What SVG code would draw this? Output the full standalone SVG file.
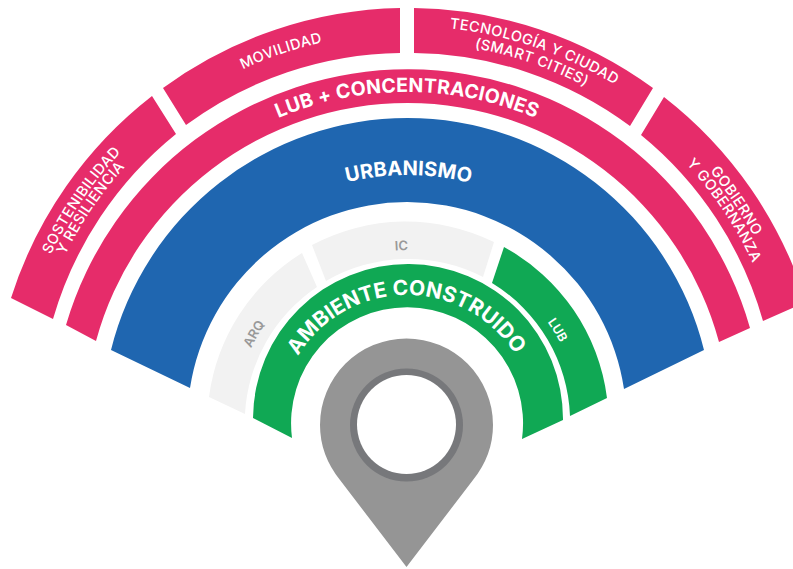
<svg xmlns="http://www.w3.org/2000/svg" width="793" height="569" viewBox="0 0 793 569">
<style>
.pink{fill:#e62c6a}.blue{fill:#1f66b0}.green{fill:#10a854}.light{fill:#f2f2f2}
text{font-family:"Inter","Open Sans","Liberation Sans",sans-serif;fill:#fff;text-anchor:middle}
.s{font-size:14.5px;font-weight:500;letter-spacing:.4px}
.b1{font-size:19.5px;font-weight:700;letter-spacing:.2px}
.b2{font-size:20px;font-weight:700;letter-spacing:.1px}
.b3{font-size:21px;font-weight:700;letter-spacing:.1px}
.g{font-size:13px;font-weight:600;fill:#999}
.l{font-size:12.5px;font-weight:600}
</style>
<defs>
<path id="r397" d="M10 423A397 397 0 0 1 804 423"/>
<path id="r394" d="M13 423A394 394 0 0 1 801 423"/>
<path id="r390" d="M17 423A390 390 0 0 1 797 423"/>
<path id="r381" d="M26 423A381 381 0 0 1 788 423"/>
<path id="r331" d="M76 423A331 331 0 0 1 738 423"/>
<path id="r248" d="M159 423A248 248 0 0 1 655 423"/>
<path id="r173" d="M234 423A173 173 0 0 1 580 423"/>
<path id="r128" d="M279 423A128 128 0 0 1 535 423"/>
</defs>
<g id="sostenibilidad">
<path class="pink" d="M11 298A415 415 0 0 1 152 96L176 134A370 370 0 0 0 53 319Z"/>
<text class="s"><textPath href="#r394" startOffset="19.1%">SOSTENIBILIDAD</textPath></text>
<text class="s"><textPath href="#r381" startOffset="19%">Y RESILIENCIA</textPath></text>
</g>
<g id="movilidad">
<path class="pink" d="M163 88A415 415 0 0 1 400 8V53A370 370 0 0 0 186 125Z"/>
<text class="s"><textPath href="#r390" startOffset="39.6%">MOVILIDAD</textPath></text>
</g>
<g id="tecnologia">
<path class="pink" d="M414 8A415 415 0 0 1 653 88L630 126A370 370 0 0 0 414 53Z"/>
<text class="s"><textPath href="#r397" startOffset="60.5%">TECNOLOGÍA Y CIUDAD</textPath></text>
<text class="s"><textPath href="#r381" startOffset="60.6%">(SMART CITIES)</textPath></text>
</g>
<g id="gobierno">
<path class="pink" d="M664 97A415 415 0 0 1 806 302L763 321A370 370 0 0 0 641 135Z"/>
<text class="s"><textPath href="#r394" startOffset="81.1%">GOBIERNO</textPath></text>
<text class="s"><textPath href="#r381" startOffset="81.2%">Y GOBERNANZA</textPath></text>
</g>
<g id="lub-concentraciones">
<path class="pink" d="M66 325A356 356 0 0 1 750 328L719 342A322.7 322.7 0 0 0 96 341Z"/>
<text class="b1"><textPath href="#r331" startOffset="50%">LUB + CONCENTRACIONES</textPath></text>
</g>
<g id="urbanismo">
<path class="blue" d="M111 350A305.5 305.5 0 0 1 704 350L624 389A219.5 219.5 0 0 0 190 388Z"/>
<text class="b2"><textPath href="#r248" startOffset="50.2%">URBANISMO</textPath></text>
</g>
<g id="arq">
<path class="light" d="M209 397A200 200 0 0 1 302 253L317 287A164 164 0 0 0 245 414Z"/>
<text class="g"><textPath href="#r173" startOffset="16.8%">ARQ</textPath></text>
</g>
<g id="ic">
<path class="light" d="M312 245A200 200 0 0 1 494 242L483 277A164 164 0 0 0 326 281Z"/>
<text class="g"><textPath href="#r173" startOffset="49%">IC</textPath></text>
</g>
<g id="lub">
<path class="green" d="M504 247A201 201 0 0 1 607 398L570 416A163 163 0 0 0 492 283Z"/>
<text class="l"><textPath href="#r173" startOffset="82.4%">LUB</textPath></text>
</g>
<g id="ambiente-construido">
<path class="green" d="M253 418A155 155 0 0 1 563 420L522 439A116 116 0 1 0 292 438Z"/>
<text class="b3"><textPath href="#r128" startOffset="49.8%">AMBIENTE CONSTRUIDO</textPath></text>
</g>
<g id="pin">
<path fill="#959595" d="M406.5 567L340 480Q320 455 320 425A86.5 86.5 0 0 1 493 425Q493 455 473 480Z"/>
<circle cx="406.5" cy="425" r="56.5" fill="#77787b"/>
<circle cx="406.5" cy="424.5" r="49.5" fill="#fff"/>
</g>
</svg>
